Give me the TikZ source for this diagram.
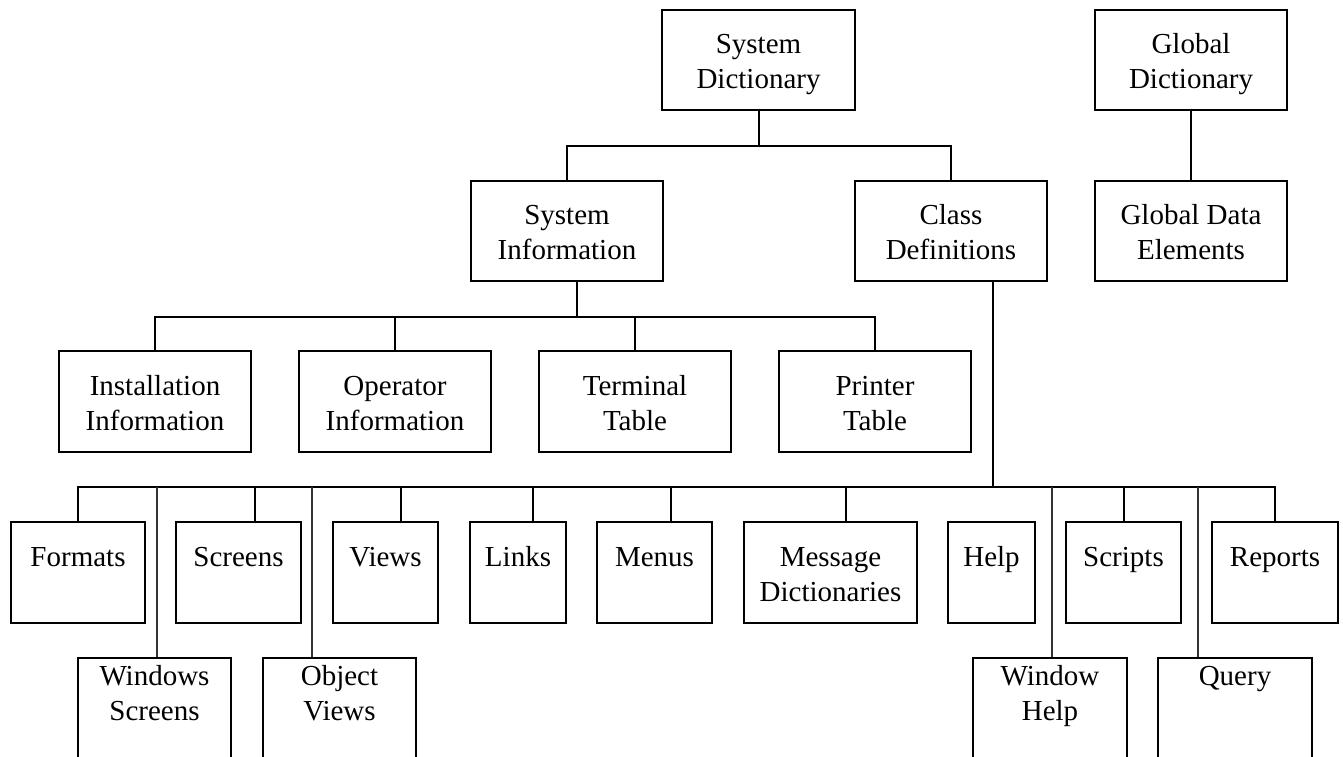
\documentclass[tikz,border=0pt]{standalone}
\usepackage{fontspec}
\setmainfont{Liberation Serif}
\begin{document}
\begin{tikzpicture}[x=1pt,y=-1pt,
  bx/.style={draw, line width=2.2pt, rectangle, inner sep=0pt},
  lbl/.style={inner sep=0pt, anchor=north, align=center, font=\fontsize{29}{35}\selectfont},
  conn/.style={line width=2pt, line join=miter},
  thin/.style={line width=1.5pt, draw=black!80}]
\useasboundingbox (0,0) rectangle (1343,757);
\clip (0,0) rectangle (1343,757);
% top level
\node[bx, minimum width=193pt, minimum height=100pt] (sd) at (758.5,60) {};
\node[lbl] (sdt) at (758.5,29) {\strut System\\Dictionary};
\node[bx, minimum width=192pt, minimum height=100pt] (gd) at (1191,60) {};
\node[lbl] (gdt) at (1191,29) {\strut Global\\Dictionary};
% second level
\node[bx, minimum width=192pt, minimum height=100pt] (si) at (567,231) {};
\node[lbl] (sit) at (567,200) {\strut System\\Information};
\node[bx, minimum width=192pt, minimum height=100pt] (cd) at (951,231) {};
\node[lbl] (cdt) at (951,200) {\strut Class\\Definitions};
\node[bx, minimum width=192pt, minimum height=100pt] (gde) at (1191,231) {};
\node[lbl] (gdet) at (1191,200) {\strut Global Data\\Elements};
% third level
\node[bx, minimum width=192pt, minimum height=101pt] (inst) at (155,401.5) {};
\node[lbl] (instt) at (155,370.5) {\strut Installation\\Information};
\node[bx, minimum width=192pt, minimum height=101pt] (op) at (395,401.5) {};
\node[lbl] (opt) at (395,370.5) {\strut Operator\\Information};
\node[bx, minimum width=192pt, minimum height=101pt] (term) at (635,401.5) {};
\node[lbl] (termt) at (635,370.5) {\strut Terminal\\Table};
\node[bx, minimum width=192pt, minimum height=101pt] (prt) at (875,401.5) {};
\node[lbl] (prtt) at (875,370.5) {\strut Printer\\Table};
% fourth level
\node[bx, minimum width=134pt, minimum height=101pt] (fmt) at (78,572.5) {};
\node[lbl] (fmtt) at (78,541.5) {\strut Formats};
\node[bx, minimum width=125pt, minimum height=101pt] (scr) at (238.5,572.5) {};
\node[lbl] (scrt) at (238.5,541.5) {\strut Screens};
\node[bx, minimum width=105pt, minimum height=101pt] (vws) at (385.5,572.5) {};
\node[lbl] (vwst) at (385.5,541.5) {\strut Views};
\node[bx, minimum width=96pt, minimum height=101pt] (lnk) at (518,572.5) {};
\node[lbl] (lnkt) at (518,541.5) {\strut Links};
\node[bx, minimum width=115pt, minimum height=101pt] (mnu) at (654.5,572.5) {};
\node[lbl] (mnut) at (654.5,541.5) {\strut Menus};
\node[bx, minimum width=173pt, minimum height=101pt] (md) at (830.5,572.5) {};
\node[lbl] (mdt) at (830.5,541.5) {\strut Message\\Dictionaries};
\node[bx, minimum width=87pt, minimum height=101pt] (hlp) at (991.5,572.5) {};
\node[lbl] (hlpt) at (991.5,541.5) {\strut Help};
\node[bx, minimum width=115pt, minimum height=101pt] (scp) at (1123.5,572.5) {};
\node[lbl] (scpt) at (1123.5,541.5) {\strut Scripts};
\node[bx, minimum width=126pt, minimum height=101pt] (rep) at (1275,572.5) {};
\node[lbl] (rept) at (1275,541.5) {\strut Reports};
% bottom level (cut off by the page edge)
\node[bx, minimum width=153pt, minimum height=140pt] (ws) at (154.5,728) {};
\node[lbl] (wst) at (154.5,661) {\strut Windows\\Screens};
\node[bx, minimum width=153pt, minimum height=140pt] (ov) at (339.5,728) {};
\node[lbl] (ovt) at (339.5,661) {\strut Object\\Views};
\node[bx, minimum width=154pt, minimum height=140pt] (wh) at (1050,728) {};
\node[lbl] (wht) at (1050,661) {\strut Window\\Help};
\node[bx, minimum width=154pt, minimum height=140pt] (qry) at (1235,728) {};
\node[lbl] (qryt) at (1235,661) {\strut Query};
% bus coordinates
\coordinate (b1) at (758.5,146);
\coordinate (b2) at (577,317);
\coordinate (b3) at (993,487);
% connectors
\draw[conn] (sd.south) -- (b1);
\draw[conn] (si.north) |- (b1) -| (cd.north);
\draw[conn] (gd.south) -- (gde.north);
\draw[conn] (si.south -| b2) -- (b2);
\draw[conn] (inst.north) |- (b2) -| (prt.north);
\draw[conn] (op.north) -- (op.north |- b2);
\draw[conn] (term.north) -- (term.north |- b2);
\draw[conn] (cd.south -| b3) -- (b3);
\draw[conn] (fmt.north) |- (b3) -| (rep.north);
\draw[conn] ([xshift=16.5pt]scr.north) -- ([xshift=16.5pt]scr.north |- b3);
\draw[conn] ([xshift=15.5pt]vws.north) -- ([xshift=15.5pt]vws.north |- b3);
\draw[conn] ([xshift=15pt]lnk.north) -- ([xshift=15pt]lnk.north |- b3);
\draw[conn] ([xshift=16.5pt]mnu.north) -- ([xshift=16.5pt]mnu.north |- b3);
\draw[conn] ([xshift=15.5pt]md.north) -- ([xshift=15.5pt]md.north |- b3);
\draw[conn] (scp.north) -- (scp.north |- b3);
\draw[conn,thin] ([xshift=2.5pt]ws.north) -- ([xshift=2.5pt]ws.north |- b3);
\draw[conn,thin] ([xshift=-27.5pt]ov.north) -- ([xshift=-27.5pt]ov.north |- b3);
\draw[conn,thin] ([xshift=2pt]wh.north) -- ([xshift=2pt]wh.north |- b3);
\draw[conn,thin] ([xshift=-37pt]qry.north) -- ([xshift=-37pt]qry.north |- b3);
\end{tikzpicture}
\end{document}
